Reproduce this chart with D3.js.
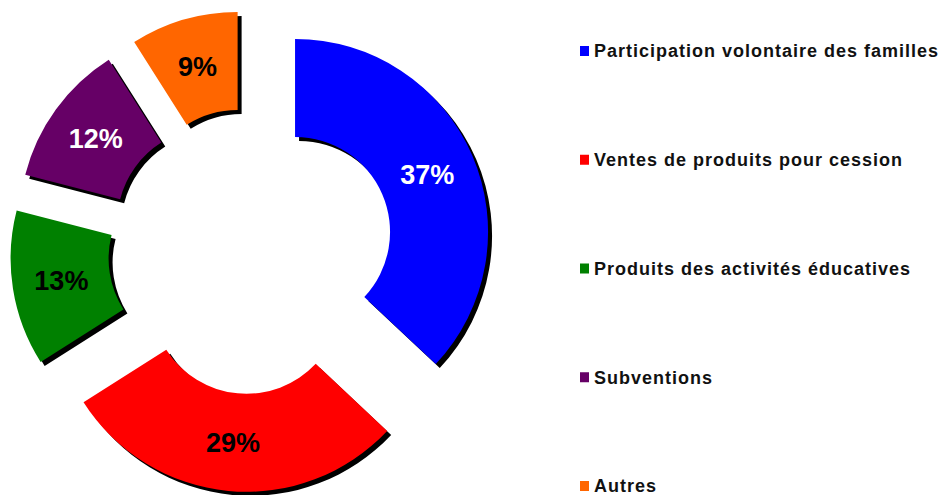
<!DOCTYPE html>
<html>
<head>
<meta charset="utf-8">
<script src="https://cdn.jsdelivr.net/npm/d3@7"></script>
<style>
  body { margin: 0; background: #fff; }
  svg { display: block; }
</style>
</head>
<body>
<svg></svg>
<script>
const w = 946
const h = 495

// data
const categories = [
  'Participation volontaire des familles',
  'Ventes de produits pour cession',
  'Produits des activités éducatives',
  'Subventions',
  'Autres'
]
const values = [37, 29, 13, 12, 9]
const colors = ['#0000ff', '#ff0000', '#008000', '#660066', '#ff6600']
const labelColors = ['#fff', '#000', '#000', '#fff', '#000']

const svg = d3.select('svg')
  .attr('width', w)
  .attr('height', h);

const render = () => {
  const cx = 251, cy = 251
  const outerR = 193
  const innerR = 95
  const explode = 48

  const pie = d3.pie().sort(null)
  const arcs = pie(values)

  const arc = d3.arc()
    .innerRadius(innerR)
    .outerRadius(outerR)

  const offset = d => {
    const a = (d.startAngle + d.endAngle) / 2
    return [Math.sin(a) * explode, -Math.cos(a) * explode]
  }

  const g = svg.append('g')
    .attr('transform', `translate(${cx}, ${cy})`);

  // shadows first, then the slices
  g.selectAll('path.shadow').data(arcs)
    .enter().append('path')
    .attr('class', 'shadow')
    .attr('d', arc)
    .attr('fill', '#000')
    .attr('transform', d => {
      const [dx, dy] = offset(d)
      return `translate(${dx + 4}, ${dy + 4})`
    })

  g.selectAll('path.slice').data(arcs)
    .enter().append('path')
    .attr('class', 'slice')
    .attr('d', arc)
    .attr('fill', (d, i) => colors[i])
    .attr('transform', d => {
      const [dx, dy] = offset(d)
      return `translate(${dx}, ${dy})`
    })

  g.selectAll('text.pct').data(arcs)
    .enter().append('text')
    .attr('class', 'pct')
    .attr('transform', d => {
      const [dx, dy] = offset(d)
      const [x, y] = arc.centroid(d)
      return `translate(${x + dx}, ${y + dy})`
    })
    .attr('text-anchor', 'middle')
    .attr('dy', '0.35em')
    .attr('font-family', '"Liberation Sans", Arial, sans-serif')
    .attr('font-weight', 'bold')
    .attr('font-size', 27)
    .attr('fill', (d, i) => labelColors[i])
    .text(d => d.data + '%')

  // legend
  const yLegend = d3.scalePoint()
    .domain(categories)
    .range([51, 486])

  const legend = svg.append('g')
    .attr('transform', 'translate(580, 0)');

  const item = legend.selectAll('g').data(categories)
    .enter().append('g')
    .attr('transform', d => `translate(0, ${yLegend(d)})`)

  item.append('rect')
    .attr('x', 0)
    .attr('y', -5)
    .attr('width', 9)
    .attr('height', 10)
    .attr('fill', (d, i) => colors[i])

  item.append('text')
    .attr('x', 14)
    .attr('dy', '0.36em')
    .attr('font-family', '"Liberation Sans", Arial, sans-serif')
    .attr('font-weight', 'bold')
    .attr('font-size', 18)
    .attr('letter-spacing', 1)
    .attr('fill', '#111')
    .text(d => d)
}

render()
</script>
</body>
</html>
